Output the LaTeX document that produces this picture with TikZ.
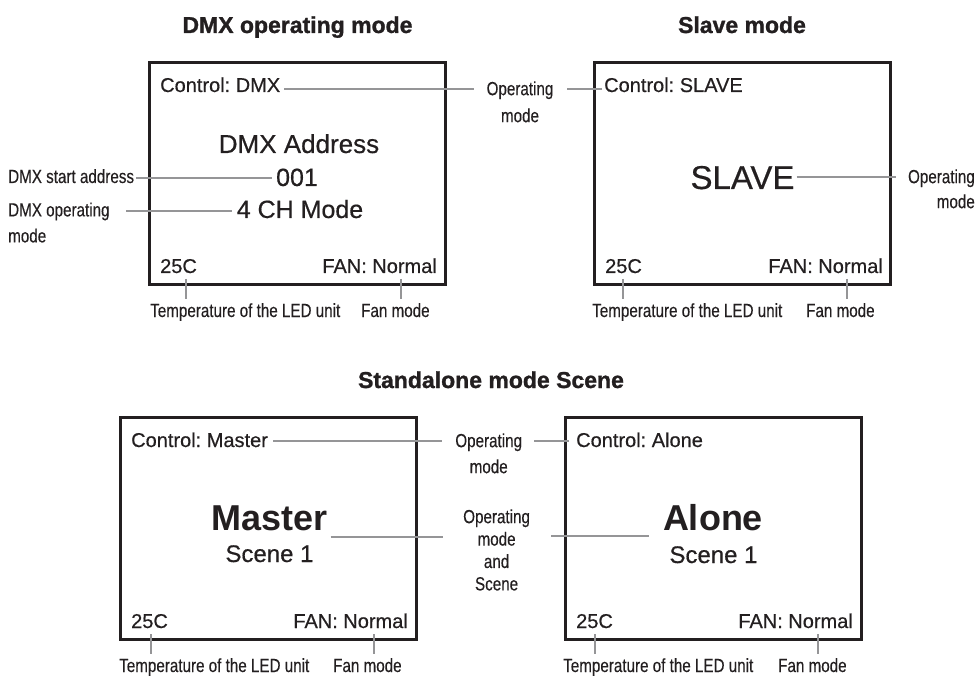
\documentclass[tikz,border=0pt]{standalone}
\usepackage{fontspec}
\setmainfont{Liberation Sans}
\newfontfamily\dispfont[FakeBold=0.5]{Liberation Sans}
\newfontfamily\dispboldfont{Liberation Sans Bold}
\newfontfamily\annfont[FakeStretch=0.8, FakeBold=0.3]{Liberation Sans}
\newfontfamily\titlefont[FakeBold=1.2]{Liberation Sans}
\usetikzlibrary{calc}
\frenchspacing
\definecolor{ink}{HTML}{231F20}
\definecolor{leadgray}{HTML}{959597}
\tikzset{
  screen/.style={draw=ink, line width=2.6pt, minimum width=296pt, minimum height=222pt, inner sep=0pt},
  ttl/.style={inner sep=0pt, text=ink, anchor=base, font=\titlefont\bfseries\fontsize{23}{27}\selectfont},
  lcd/.style={inner sep=0pt, text=ink, font=\dispfont\fontsize{20}{24}\selectfont},
  lcdmid/.style={inner sep=0pt, text=ink, anchor=base, font=\dispfont\fontsize{25}{30}\selectfont},
  lcdbig/.style={inner sep=0pt, text=ink, anchor=base, font=\dispfont\fontsize{33}{38}\selectfont},
  lcdbold/.style={inner sep=0pt, text=ink, anchor=base, font=\dispboldfont\fontsize{36}{40}\selectfont},
  ann/.style={inner sep=0pt, text=ink, font=\annfont\fontsize{19}{26}\selectfont},
  lead/.style={draw=leadgray, line width=2pt},
}
\begin{document}
\begin{tikzpicture}[x=1pt, y=-1pt]
\useasboundingbox (0,0) rectangle (977,676);

% titles
\node[ttl] (t1) at (297.5,33) {DMX operating mode};
\node[ttl] (t2) at (742,33) {Slave mode};
\node[ttl] (t3) at (491,388) {Standalone mode Scene};

% screens
\node[screen] (b1) at (297.5,173.3) {};
\node[screen] (b2) at (742.5,173.3) {};
\node[screen] (b3) at (268.5,528.5) {};
\node[screen] (b4) at (713.3,528.3) {};

% ---- screen 1: DMX
\node[lcd, anchor=base west] (c1) at (160,92) {Control: DMX};
\node[lcdmid, font=\dispfont\fontsize{26}{30}\selectfont] (a1) at (299,153) {DMX Address};
\node[lcdmid] (a2) at (297,186) {001};
\node[lcdmid] (a3) at (300,218) {4 CH Mode};
\node[lcd, anchor=base west] (tmp1) at (160,273) {25C};
\node[lcd, anchor=base east] (fan1) at (437,273) {FAN: Normal};
\node[ann, anchor=base west] (lt1) at (150,317) {Temperature of the LED unit};
\node[ann, anchor=base west] (lf1) at (361,317) {Fan mode};
\node[ann, anchor=base west] (lds) at (8,183) {DMX start address};
\node[ann, anchor=north west, align=left, font=\annfont\fontsize{19}{26}\selectfont] (ldo) at (8,202.4) {DMX operating\\mode};
\node[ann, anchor=north, align=center, font=\annfont\fontsize{19}{27}\selectfont] (op1) at (520,81.2) {Operating\\mode};

% ---- screen 2: Slave
\node[lcd, anchor=base west] (c2) at (604,92) {Control: SLAVE};
\node[lcdbig] (sl) at (742.5,189) {SLAVE};
\node[lcd, anchor=base west] (tmp2) at (605,273) {25C};
\node[lcd, anchor=base east] (fan2) at (883,273) {FAN: Normal};
\node[ann, anchor=base west] (lt2) at (592,317) {Temperature of the LED unit};
\node[ann, anchor=base west] (lf2) at (806,317) {Fan mode};
\node[ann, anchor=north east, align=right, font=\annfont\fontsize{19}{25}\selectfont] (op2) at (975,169.2) {Operating\\mode};

% ---- screen 3: Master
\node[lcd, anchor=base west] (c3) at (131,447) {Control: Master};
\node[lcdbold] (ms) at (269.5,530) {Master};
\node[lcdmid, font=\dispfont\fontsize{24}{28}\selectfont] (sc3) at (269.5,562) {Scene 1};
\node[lcd, anchor=base west] (tmp3) at (131,628) {25C};
\node[lcd, anchor=base east] (fan3) at (408,628) {FAN: Normal};
\node[ann, anchor=base west] (lt3) at (119,672) {Temperature of the LED unit};
\node[ann, anchor=base west] (lf3) at (333,672) {Fan mode};
\node[ann, anchor=north, align=center, font=\annfont\fontsize{19}{26}\selectfont] (op3) at (488.7,433.2) {Operating\\mode};
\node[ann, anchor=north, align=center, font=\annfont\fontsize{19}{22.4}\selectfont] (op4) at (496.6,509.2) {Operating\\mode\\and\\Scene};

% ---- screen 4: Alone
\node[lcd, anchor=base west] (c4) at (576,447) {Control: Alone};
\node[lcdbold] (al) at (713,530) {Alone};
\node[lcdmid, font=\dispfont\fontsize{24}{28}\selectfont] (sc4) at (713.5,563) {Scene 1};
\node[lcd, anchor=base west] (tmp4) at (576,628) {25C};
\node[lcd, anchor=base east] (fan4) at (853,628) {FAN: Normal};
\node[ann, anchor=base west] (lt4) at (563,672) {Temperature of the LED unit};
\node[ann, anchor=base west] (lf4) at (778,672) {Fan mode};

% ---- leader lines
\draw[lead] ($(c1.base east)+(4,-3)$) coordinate (q) -- ($(q -| op1.west)+(-12,0)$);
\draw[lead] ($(c2.base west)+(-2,-3)$) coordinate (q) -- ($(q -| op1.east)+(13,0)$);
\draw[lead] ($(lds.base east)+(2,-5)$) coordinate (q) -- ($(q -| a2.west)+(-4,0)$);
\draw[lead] ($(a3.base west)+(-5,-7)$) coordinate (q) -- ($(q -| ldo.east)+(16,0)$);
\draw[lead] ($(sl.base east)+(2,-12)$) coordinate (q) -- ($(q -| op2.west)+(-12,0)$);
\draw[lead] ($(c3.base east)+(5,-6)$) coordinate (q) -- ($(q -| op3.west)+(-13,0)$);
\draw[lead] ($(c4.base west)+(-7,-6)$) coordinate (q) -- ($(q -| op3.east)+(12,0)$);
\draw[lead] ($(ms.base east)+(3,7)$) coordinate (q) -- ($(q -| op4.west)+(-20,0)$);
\draw[lead] ($(al.base west)+(-14,6)$) coordinate (q) -- ($(q -| op4.east)+(21,0)$);

% ---- ticks
\draw[lead] ($(tmp1.base west)+(26,6)$) coordinate (q) -- ($(q |- lt1.base)+(0,-18)$);
\draw[lead] ($(fan1.base east)+(-36,6)$) coordinate (q) -- ($(q |- lf1.base)+(0,-18)$);
\draw[lead] ($(tmp2.base west)+(18,6)$) coordinate (q) -- ($(q |- lt2.base)+(0,-18)$);
\draw[lead] ($(fan2.base east)+(-36,6)$) coordinate (q) -- ($(q |- lf2.base)+(0,-18)$);
\draw[lead] ($(tmp3.base west)+(20,6)$) coordinate (q) -- ($(q |- lt3.base)+(0,-18)$);
\draw[lead] ($(fan3.base east)+(-34,6)$) coordinate (q) -- ($(q |- lf3.base)+(0,-18)$);
\draw[lead] ($(tmp4.base west)+(19,6)$) coordinate (q) -- ($(q |- lt4.base)+(0,-18)$);
\draw[lead] ($(fan4.base east)+(-35,6)$) coordinate (q) -- ($(q |- lf4.base)+(0,-18)$);
\end{tikzpicture}
\end{document}
